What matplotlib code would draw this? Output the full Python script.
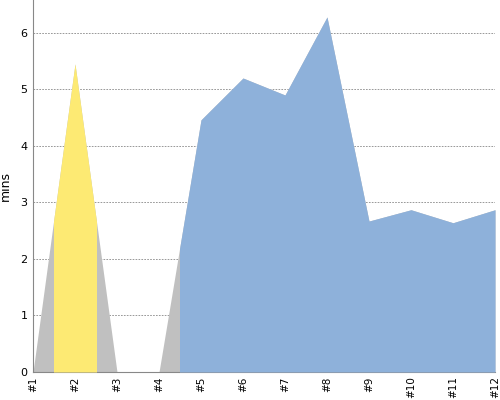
import numpy as np
import matplotlib
matplotlib.use("Agg")
import matplotlib.pyplot as plt
from matplotlib.patches import Rectangle

labels = ["#1", "#2", "#3", "#4", "#5", "#6", "#7", "#8", "#9", "#10", "#11", "#12"]
mins = [0, 5.45, 0, 0, 4.46, 5.2, 4.9, 6.28, 2.67, 2.87, 2.64, 2.87]
# highlighted stretches (index ranges) and their colours
bands = [(0.5, 1.5, "#fdea73"), (3.5, 11, "#8eb1da")]

x = np.arange(len(labels))

fig = plt.figure(figsize=(5, 4), dpi=100)
ax = fig.add_axes([0.066, 0.07, 0.924, 0.93])

ax.fill_between(x, 0, mins, color="#c0c0c0", linewidth=0, zorder=2)
for lo, hi, col in bands:
    poly = ax.fill_between(x, 0, mins, color=col, linewidth=0, zorder=3)
    clip = Rectangle((lo, -1), hi - lo, 20, transform=ax.transData)
    poly.set_clip_path(clip)

ax.set_xlim(0, len(labels) - 1)
ax.set_ylim(0, 6.58)
ax.set_xticks(x)
ax.set_xticklabels(labels, rotation=90, fontsize=7.5)
ax.set_yticks(range(7))
ax.tick_params(axis="y", labelsize=8, length=0, pad=4)
ax.tick_params(axis="x", length=0, pad=3)
ax.set_ylabel("mins", fontsize=9, labelpad=6)

ax.grid(axis="y", color="#888888", linestyle=(0, (2, 1.5)), linewidth=0.6, zorder=1)
ax.set_axisbelow(True)
for s in ["top", "right"]:
    ax.spines[s].set_visible(False)
for s in ["left", "bottom"]:
    ax.spines[s].set_color("#888888")

fig.savefig("out.png")
